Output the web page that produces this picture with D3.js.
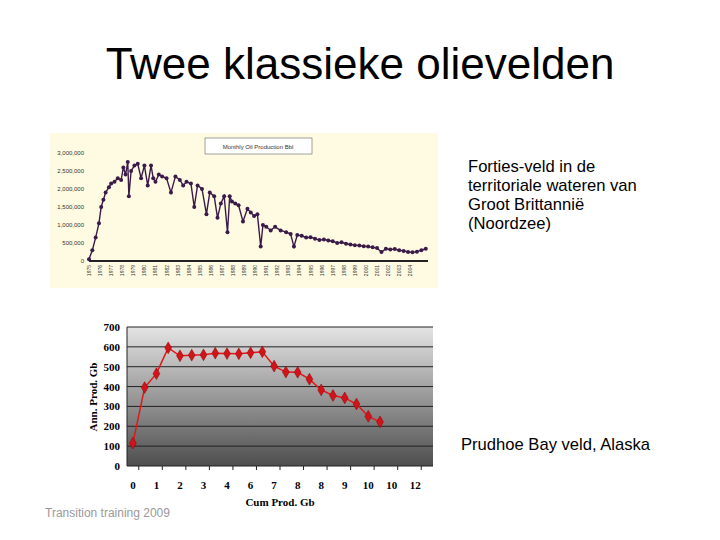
<!DOCTYPE html>
<html><head><meta charset="utf-8">
<script src="https://cdn.jsdelivr.net/npm/d3@7"></script>
<style>body{margin:0;background:#fff}text{font-family:"Liberation Sans",Arial,sans-serif}</style>
</head><body><svg id="c" width="720" height="540"></svg>
<script>
// Forties monthly production (year, barrels/month)
const fortiesYear = [1975.0,1975.3,1975.6,1975.9,1976.1,1976.3,1976.5,1976.8,1977.0,1977.3,1977.6,1977.9,1978.1,1978.3,1978.5,1978.6,1978.8,1979.1,1979.4,1979.7,1980.0,1980.3,1980.6,1980.8,1981.0,1981.3,1981.6,1982.0,1982.4,1982.8,1983.2,1983.5,1983.8,1984.2,1984.5,1984.8,1985.2,1985.6,1985.9,1986.3,1986.6,1986.9,1987.2,1987.5,1987.7,1987.9,1988.2,1988.5,1988.9,1989.3,1989.6,1989.9,1990.2,1990.5,1990.7,1991.0,1991.4,1991.8,1992.3,1992.8,1993.2,1993.5,1993.8,1994.2,1994.6,1995.0,1995.4,1995.8,1996.2,1996.6,1997.0,1997.4,1997.8,1998.2,1998.6,1999.0,1999.4,1999.8,2000.2,2000.6,2001.0,2001.4,2001.8,2002.2,2002.6,2003.0,2003.4,2003.8,2004.2,2004.6,2005.0,2005.4];
const fortiesProd = [50000,300000,650000,1050000,1500000,1700000,1900000,2050000,2150000,2200000,2300000,2250000,2600000,2400000,2750000,1800000,2500000,2650000,2700000,2300000,2650000,2100000,2650000,2300000,2200000,2400000,2350000,2300000,1900000,2350000,2250000,2100000,2200000,2150000,1500000,2100000,2000000,1300000,1900000,1800000,1200000,1600000,1800000,800000,1800000,1650000,1600000,1550000,1100000,1450000,1350000,1250000,1300000,400000,1000000,950000,850000,950000,850000,800000,750000,400000,720000,700000,650000,660000,620000,580000,600000,570000,550000,500000,520000,480000,460000,440000,430000,410000,400000,380000,360000,250000,340000,320000,330000,300000,280000,250000,240000,260000,300000,340000];
const fortiesTicks = [0,500000,1000000,1500000,2000000,2500000,3000000];
const fortiesYears = d3.range(1975,2005);

// Prudhoe Bay
const prudCats = d3.range(26);
const prudLabels = ["0","1","2","3","4","6","7","8","8","9","10","10","12"];
const prudVals = [115,395,465,595,555,558,560,568,566,565,570,575,503,473,472,437,383,355,343,312,250,222];
const prudTicks = [0,100,200,300,400,500,600,700];

const svg = d3.select("#c");
svg.append("text").attr("x",360).attr("y",79).attr("text-anchor","middle")
  .style("font-size","44px").text("Twee klassieke olievelden");

// top chart
svg.append("rect").attr("x",50).attr("y",133).attr("width",388).attr("height",155).attr("fill","#fffbe2");
const x1 = d3.scaleLinear().domain([1975,2005.6]).range([89,428]);
const y1 = d3.scaleLinear().domain([0,3000000]).range([261,153]);
const g1 = svg.append("g");
g1.append("rect").attr("x",205).attr("y",138).attr("width",107).attr("height",16).attr("fill","#fff").attr("stroke","#444").attr("stroke-width",0.5);
g1.append("text").attr("x",258).attr("y",149).attr("text-anchor","middle").style("font-size","6px").attr("fill","#333").text("Monthly Oil Production Bbl");
g1.selectAll(".yt").data(fortiesTicks).join("text").attr("x",84).attr("y",d=>y1(d)+2)
  .attr("text-anchor","end").style("font-size","6px").attr("fill","#333").text(d=>d3.format(",")(d));
g1.append("line").attr("x1",89).attr("x2",428).attr("y1",261).attr("y2",261).attr("stroke","#222").attr("stroke-width",2);
g1.selectAll(".xt").data(fortiesYears).join("text")
  .attr("transform",d=>`translate(${x1(d)+2},${265}) rotate(-90)`).attr("text-anchor","end")
  .style("font-size","5px").attr("fill","#333").text(d=>d);
g1.append("path").datum(fortiesYear.map((d,i)=>[d,fortiesProd[i]]))
  .attr("d",d3.line().x(d=>x1(d[0])).y(d=>y1(d[1]))).attr("fill","none").attr("stroke","#3b1a48").attr("stroke-width",1.4);
g1.selectAll(".pt").data(fortiesYear).join("circle").attr("cx",d=>x1(d)).attr("cy",(d,i)=>y1(fortiesProd[i]))
  .attr("r",2).attr("fill","#3b1a48");

svg.append("text").attr("x",468).attr("y",172).style("font-size","16.6px").selectAll("tspan")
  .data(["Forties-veld in de","territoriale wateren van","Groot Brittannië","(Noordzee)"]).join("tspan")
  .attr("x",468).attr("dy",(d,i)=>i?19:0).text(d=>d);

// bottom chart
const x2 = d3.scaleBand().domain(prudCats).range([127,433]);
const y2 = d3.scaleLinear().domain([0,700]).range([466,327]);
const defs = svg.append("defs");
const gr = defs.append("linearGradient").attr("id","bg").attr("x1",0).attr("x2",0).attr("y1",0).attr("y2",1);
gr.append("stop").attr("offset",0).attr("stop-color","#e4e4e4");
gr.append("stop").attr("offset",1).attr("stop-color","#4e4e4e");
svg.append("rect").attr("x",127).attr("y",y2(700)).attr("width",306).attr("height",y2(0)-y2(700)).attr("fill","url(#bg)");
const g2 = svg.append("g");
g2.selectAll(".gl").data(prudTicks).join("line").attr("x1",127).attr("x2",433)
  .attr("y1",d=>y2(d)).attr("y2",d=>y2(d)).attr("stroke","#222").attr("stroke-width",1);
g2.append("line").attr("x1",127).attr("x2",127).attr("y1",y2(700)).attr("y2",y2(0)).attr("stroke","#222");
g2.selectAll(".yl").data(prudTicks).join("text").attr("x",120).attr("y",d=>y2(d)+4).attr("text-anchor","end")
  .style("font-family","'Liberation Serif',serif").style("font-weight","bold").style("font-size","11px").text(d=>d);
g2.selectAll(".tk").data(d3.range(1,27,2)).join("line")
  .attr("x1",d=>127+d*x2.step()).attr("x2",d=>127+d*x2.step()).attr("y1",466).attr("y2",470).attr("stroke","#222");
g2.selectAll(".xl").data(prudLabels).join("text").attr("x",(d,i)=>x2(i*2)+x2.bandwidth()/2).attr("y",489)
  .attr("text-anchor","middle").style("font-family","'Liberation Serif',serif").style("font-weight","bold").style("font-size","11px").text(d=>d);
g2.append("text").attr("x",280).attr("y",506).attr("text-anchor","middle")
  .style("font-family","'Liberation Serif',serif").style("font-weight","bold").style("font-size","11px").text("Cum Prod. Gb");
g2.append("text").attr("transform","translate(97,397) rotate(-90)").attr("text-anchor","middle")
  .style("font-family","'Liberation Serif',serif").style("font-weight","bold").style("font-size","11px").text("Ann. Prod. Gb");
const px = (d,i)=>x2(i)+x2.bandwidth()/2;
g2.append("path").datum(prudVals).attr("d",d3.line().x(px).y(d=>y2(d)))
  .attr("fill","none").attr("stroke","#e0181b").attr("stroke-width",1.5);
g2.selectAll(".mk").data(prudVals).join("path").attr("d",d3.symbol(d3.symbolDiamond,40))
  .attr("transform",(d,i)=>`translate(${px(d,i)},${y2(d)})`).attr("fill","#d2141a").attr("stroke","#8b0000").attr("stroke-width",0.5);

svg.append("text").attr("x",461).attr("y",450).style("font-size","16.6px").text("Prudhoe Bay veld, Alaska");
svg.append("text").attr("x",45).attr("y",517).style("font-size","12px").attr("fill","#999").text("Transition training 2009");
</script></body></html>
